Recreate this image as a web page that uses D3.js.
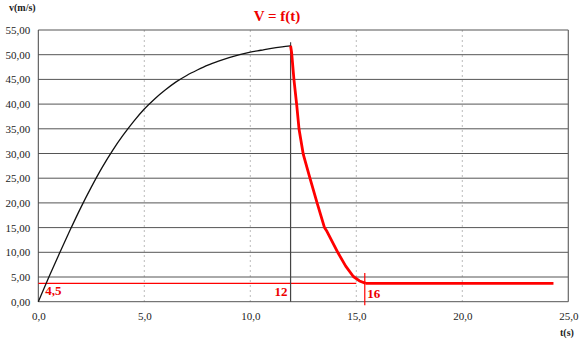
<!DOCTYPE html>
<html>
<head>
<meta charset="utf-8">
<script src="https://cdn.jsdelivr.net/npm/d3@7"></script>
<style>
  html, body { margin: 0; padding: 0; background: #fff; }
  svg { display: block; }
</style>
</head>
<body>
<svg id="chart" width="587" height="345"></svg>
<script>
// Speed-time data: acceleration phase (black) and braking phase (red)
const riseT = [0, 0.5, 1, 1.5, 2, 2.5, 3, 3.5, 4, 4.5, 5, 5.5, 6, 6.5, 7, 7.5, 8, 8.5, 9, 9.5, 10, 10.5, 11, 11.5, 11.9];
const riseV = [0, 5.0, 9.8, 14.5, 19.0, 23.2, 27.1, 30.6, 33.7, 36.5, 39.0, 41.1, 42.9, 44.5, 45.8, 46.9, 47.9, 48.7, 49.4, 50.0, 50.5, 50.9, 51.3, 51.6, 51.8];
const fallT = [11.9, 11.95, 12.06, 12.19, 12.3, 12.5, 12.8, 13.15, 13.5, 13.62, 14.15, 14.5, 14.86, 15.15, 15.45];
const fallV = [51.8, 50.4, 44.9, 39.8, 34.9, 29.8, 25.2, 20.0, 15.0, 14.2, 9.8, 7.2, 5.1, 4.2, 3.7];
const plateauT = [15.45, 24.3];
const plateauV = [3.7, 3.7];

// Reference marks annotated on the chart
const levelV = 3.7, levelEndT = 15;      // thin red level line
const brakeT = 11.9;                      // start of braking
const stopT = 15.4;                       // end of braking
const markLabels = ["4,5", "12", "16"];

const yTicks = [0, 5, 10, 15, 20, 25, 30, 35, 40, 45, 50, 55];
const xTicks = [0, 5, 10, 15, 20, 25];

const svg = d3.select("#chart");
const serif = "'Liberation Serif', 'Times New Roman', serif";
const x = d3.scaleLinear().domain([0, 25]).range([38.3, 568.3]);
const y = d3.scaleLinear().domain([0, 55]).range([301.7, 30]);
const fmtY = v => d3.format(".2f")(v).replace(".", ",");
const fmtX = v => d3.format(".1f")(v).replace(".", ",");

// vertical dotted gridlines
svg.append("g").selectAll("line").data(xTicks.filter(t => t > 0 && t < 25)).join("line")
  .attr("x1", d => x(d)).attr("x2", d => x(d))
  .attr("y1", y(55)).attr("y2", y(0))
  .attr("stroke", "#aaa").attr("stroke-width", 0.8).attr("stroke-dasharray", "2,3");

// horizontal gridlines
svg.append("g").selectAll("line").data(yTicks).join("line")
  .attr("x1", x(0)).attr("x2", x(25))
  .attr("y1", d => y(d)).attr("y2", d => y(d))
  .attr("stroke", "#555").attr("stroke-width", 1);

// plot frame sides
svg.append("line").attr("x1", x(0)).attr("x2", x(0)).attr("y1", y(55)).attr("y2", y(0))
  .attr("stroke", "#444").attr("stroke-width", 1);
svg.append("line").attr("x1", x(25)).attr("x2", x(25)).attr("y1", y(55)).attr("y2", y(0))
  .attr("stroke", "#666").attr("stroke-width", 1.2);

// y axis labels
const yAxis = d3.axisLeft(y).tickValues(yTicks).tickFormat(fmtY).tickSize(0).tickPadding(8);
const gy = svg.append("g").attr("transform", `translate(${x(0)},0)`).call(yAxis);
gy.select(".domain").remove();
gy.selectAll("text").attr("font-size", 11).attr("fill", "#222").style("font-family", serif);

// x axis labels
const xAxis = d3.axisBottom(x).tickValues(xTicks).tickFormat(fmtX).tickSize(0).tickPadding(11);
const gx = svg.append("g").attr("transform", `translate(0,${y(0)})`).call(xAxis);
gx.select(".domain").remove();
gx.selectAll("text").attr("font-size", 11).attr("fill", "#222").style("font-family", serif);

// thin red level line
svg.append("line").attr("x1", x(0)).attr("x2", x(levelEndT))
  .attr("y1", y(levelV)).attr("y2", y(levelV))
  .attr("stroke", "#f00").attr("stroke-width", 1.3);

// vertical line at start of braking
svg.append("line").attr("x1", x(brakeT)).attr("x2", x(brakeT))
  .attr("y1", y(52.5)).attr("y2", y(0))
  .attr("stroke", "#444").attr("stroke-width", 1.2);

// red tick at end of braking
svg.append("line").attr("x1", x(stopT)).attr("x2", x(stopT))
  .attr("y1", y(5.8)).attr("y2", y(-0.7))
  .attr("stroke", "#f00").attr("stroke-width", 1.2);

// acceleration curve
svg.append("path").datum(d3.zip(riseT, riseV))
  .attr("d", d3.line().x(d => x(d[0])).y(d => y(d[1])).curve(d3.curveMonotoneX))
  .attr("fill", "none").attr("stroke", "#111").attr("stroke-width", 1.3);

// braking curve
svg.append("path").datum(d3.zip(fallT, fallV))
  .attr("d", d3.line().x(d => x(d[0])).y(d => y(d[1])))
  .attr("fill", "none").attr("stroke", "#f00").attr("stroke-width", 2.8).attr("stroke-linejoin", "round");

// plateau
svg.append("path").datum(d3.zip(plateauT, plateauV))
  .attr("d", d3.line().x(d => x(d[0])).y(d => y(d[1])))
  .attr("fill", "none").attr("stroke", "#f00").attr("stroke-width", 2.6);

// annotation labels
const ann = svg.append("g").attr("fill", "#e00").attr("font-weight", "bold").attr("font-size", 13);
ann.append("text").attr("x", x(0) + 7).attr("y", 295).style("font-family", serif).text(markLabels[0]);
ann.append("text").attr("x", x(brakeT) - 16).attr("y", 296).style("font-family", serif).text(markLabels[1]);
ann.append("text").attr("x", x(stopT) + 2.5).attr("y", 298).style("font-family", serif).text(markLabels[2]);

// title and axis titles
svg.append("text").attr("x", 277).attr("y", 21).attr("text-anchor", "middle").style("font-family", serif)
  .attr("font-size", 15).attr("font-weight", "bold").attr("fill", "#e00").text("V = f(t)");
svg.append("text").attr("x", 9).attr("y", 11).style("font-family", serif)
  .attr("font-size", 10).attr("font-weight", "bold").attr("fill", "#222").text("v(m/s)");
svg.append("text").attr("x", 560).attr("y", 336).style("font-family", serif)
  .attr("font-size", 10).attr("font-weight", "bold").attr("fill", "#222").text("t(s)");
</script>
</body>
</html>
